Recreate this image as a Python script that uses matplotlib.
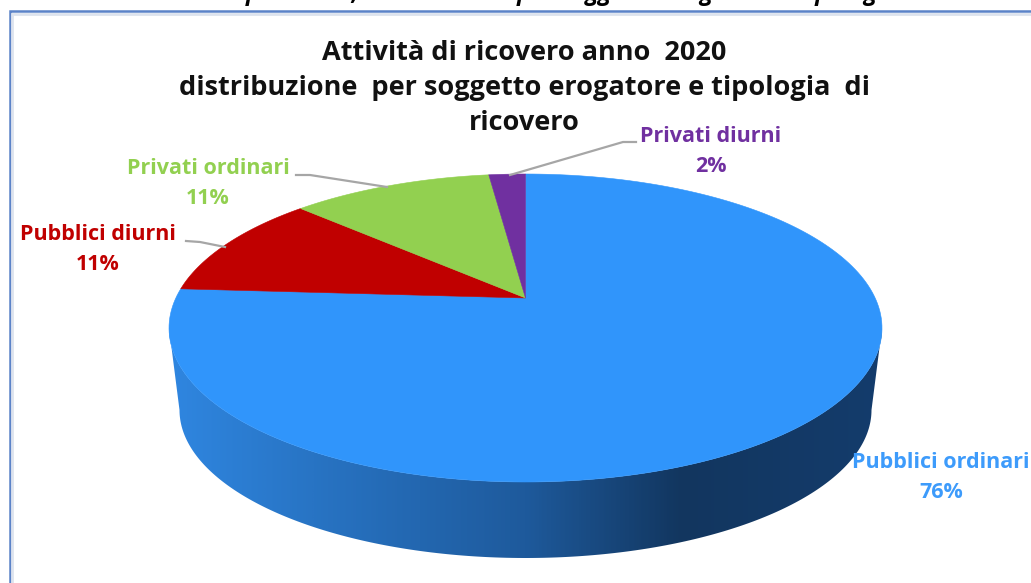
#!/usr/bin/env python3
"""Pie chart in tilted 3D look: slices go through a projective map of the unit disc."""
import matplotlib
matplotlib.use("Agg")
import matplotlib.pyplot as plt
import numpy as np
from matplotlib.colors import LinearSegmentedColormap
from matplotlib.patches import Polygon

plt.rcParams["font.family"] = ["Open Sans", "DejaVu Sans"]

# clockwise from 12 o'clock, smallest slice last so it closes on the top
LABELS = ["Pubblici ordinari", "Pubblici diurni", "Privati ordinari", "Privati diurni"]
VALUES = [76, 11, 11, 2]
COLORS = ["#3095FB", "#C00000", "#92D050", "#7030A0"]
TEXT_COLORS = ["#3D9BFB", "#C00000", "#92D050", "#7030A0"]

TITLE_LINES = ["Attività di ricovero anno  2020",
               "distribuzione  per soggetto erogatore e tipologia  di",
               "ricovero"]
CAPTION = "Attività di ricovero ospedaliera; distribuzione per soggetto erogatore e tipologia di ricovero"

# pixel layout of the picture
CX, APEX_Y, TOP_A, TOP_B = 525.5, 298, 356.5, 154
TILT = 30 / TOP_B
TITLE_Y = [53, 88, 123]
LABEL_POS = [(941, 463, 493), (98, 234, 265), (208, 169, 199), (711, 136, 167)]
LEADERS = [None,
           [(186, 241), (200, 242), (225, 247)],
           [(296, 175), (310, 175), (387, 187)],
           [(636, 142), (623, 142), (510, 175)]]


def project(theta):
    # theta clockwise from the top of the disc; near edge gets bigger
    u, v = np.sin(theta), np.cos(theta)
    w = 1 + TILT * v
    x = CX + TOP_A * np.sqrt(1 - TILT ** 2) * u / w
    y = APEX_Y - TOP_B * (1 - TILT ** 2) * v / w
    return x, y


def main(out="out.png"):
    fig = plt.figure(figsize=(10.31, 5.83), dpi=100)
    ax = fig.add_axes([0, 0, 1, 1])
    ax.set_xlim(0, 1031); ax.set_ylim(583, 0); ax.axis("off")

    # frame of the pasted chart, runs off the right and bottom edges
    ax.plot([9.5, 9.5, 1031], [583, 11, 11], color="#5B83C8", lw=1.8, solid_joinstyle="miter", zorder=1)
    ax.plot([12, 12, 1031], [583, 14, 14], color="#DDE3EE", lw=2, solid_joinstyle="miter", zorder=1)

    # only the descenders of the line above the chart are on the crop
    ax.text(515, -6.5, CAPTION, ha="center", va="center", fontsize=17, style="italic",
            fontweight="bold", color="black")

    # side wall: lower half of the top ellipse down to the lower half of the base
    t = np.linspace(0, np.pi, 200)
    top_x = CX + TOP_A * np.cos(t)
    top_y = 328 + TOP_B * np.sin(t)
    base_x = CX + 346 * np.cos(t[::-1])
    base_y = 410 + 148 * np.sin(t[::-1])
    wall = Polygon(np.column_stack([np.r_[top_x, base_x], np.r_[top_y, base_y]]),
                   closed=True, fc="none", ec="none", transform=ax.transData)
    ax.add_patch(wall)
    cmap = LinearSegmentedColormap.from_list("wall", [(0, "#2F86E0"), (0.2, "#2874C4"),
                                                      (0.5, "#1E5A9C"), (0.72, "#12365F"),
                                                      (1, "#143C6C")])
    img = ax.imshow(np.linspace(0, 1, 400).reshape(1, -1), cmap=cmap, aspect="auto",
                    extent=(CX - TOP_A, CX + TOP_A, 560, 320), zorder=2)
    img.set_clip_path(wall)
    ax.set_xlim(0, 1031); ax.set_ylim(583, 0)

    # top face
    edges = np.cumsum([0] + VALUES) / sum(VALUES) * 2 * np.pi
    # first slice starts at 12 o'clock and runs clockwise; the last one ends there
    for i, color in enumerate(COLORS):
        th = np.linspace(edges[i], edges[i + 1], 200)
        x, y = project(th)
        ax.fill(np.r_[CX, x], np.r_[APEX_Y, y], fc=color, ec=color, lw=0.4, zorder=3)

    for i, label in enumerate(LABELS):
        lx, y1, y2 = LABEL_POS[i]
        ax.text(lx, y1, label, color=TEXT_COLORS[i], ha="center", va="center", fontsize=15.5, fontweight="bold", zorder=6)
        ax.text(lx, y2, f"{VALUES[i]}%", color=TEXT_COLORS[i], ha="center", va="center", fontsize=15.5, fontweight="bold", zorder=6)
        if LEADERS[i]:
            xs, ys = zip(*LEADERS[i])
            ax.plot(xs, ys, color="#A6A6A6", lw=1.6, zorder=5)

    for line, y in zip(TITLE_LINES, TITLE_Y):
        ax.text(524, y, line, ha="center", va="center", fontsize=19.5, fontweight="bold",
                color="#111111", zorder=6)

    fig.savefig(out, dpi=100)


if __name__ == "__main__":
    main()
